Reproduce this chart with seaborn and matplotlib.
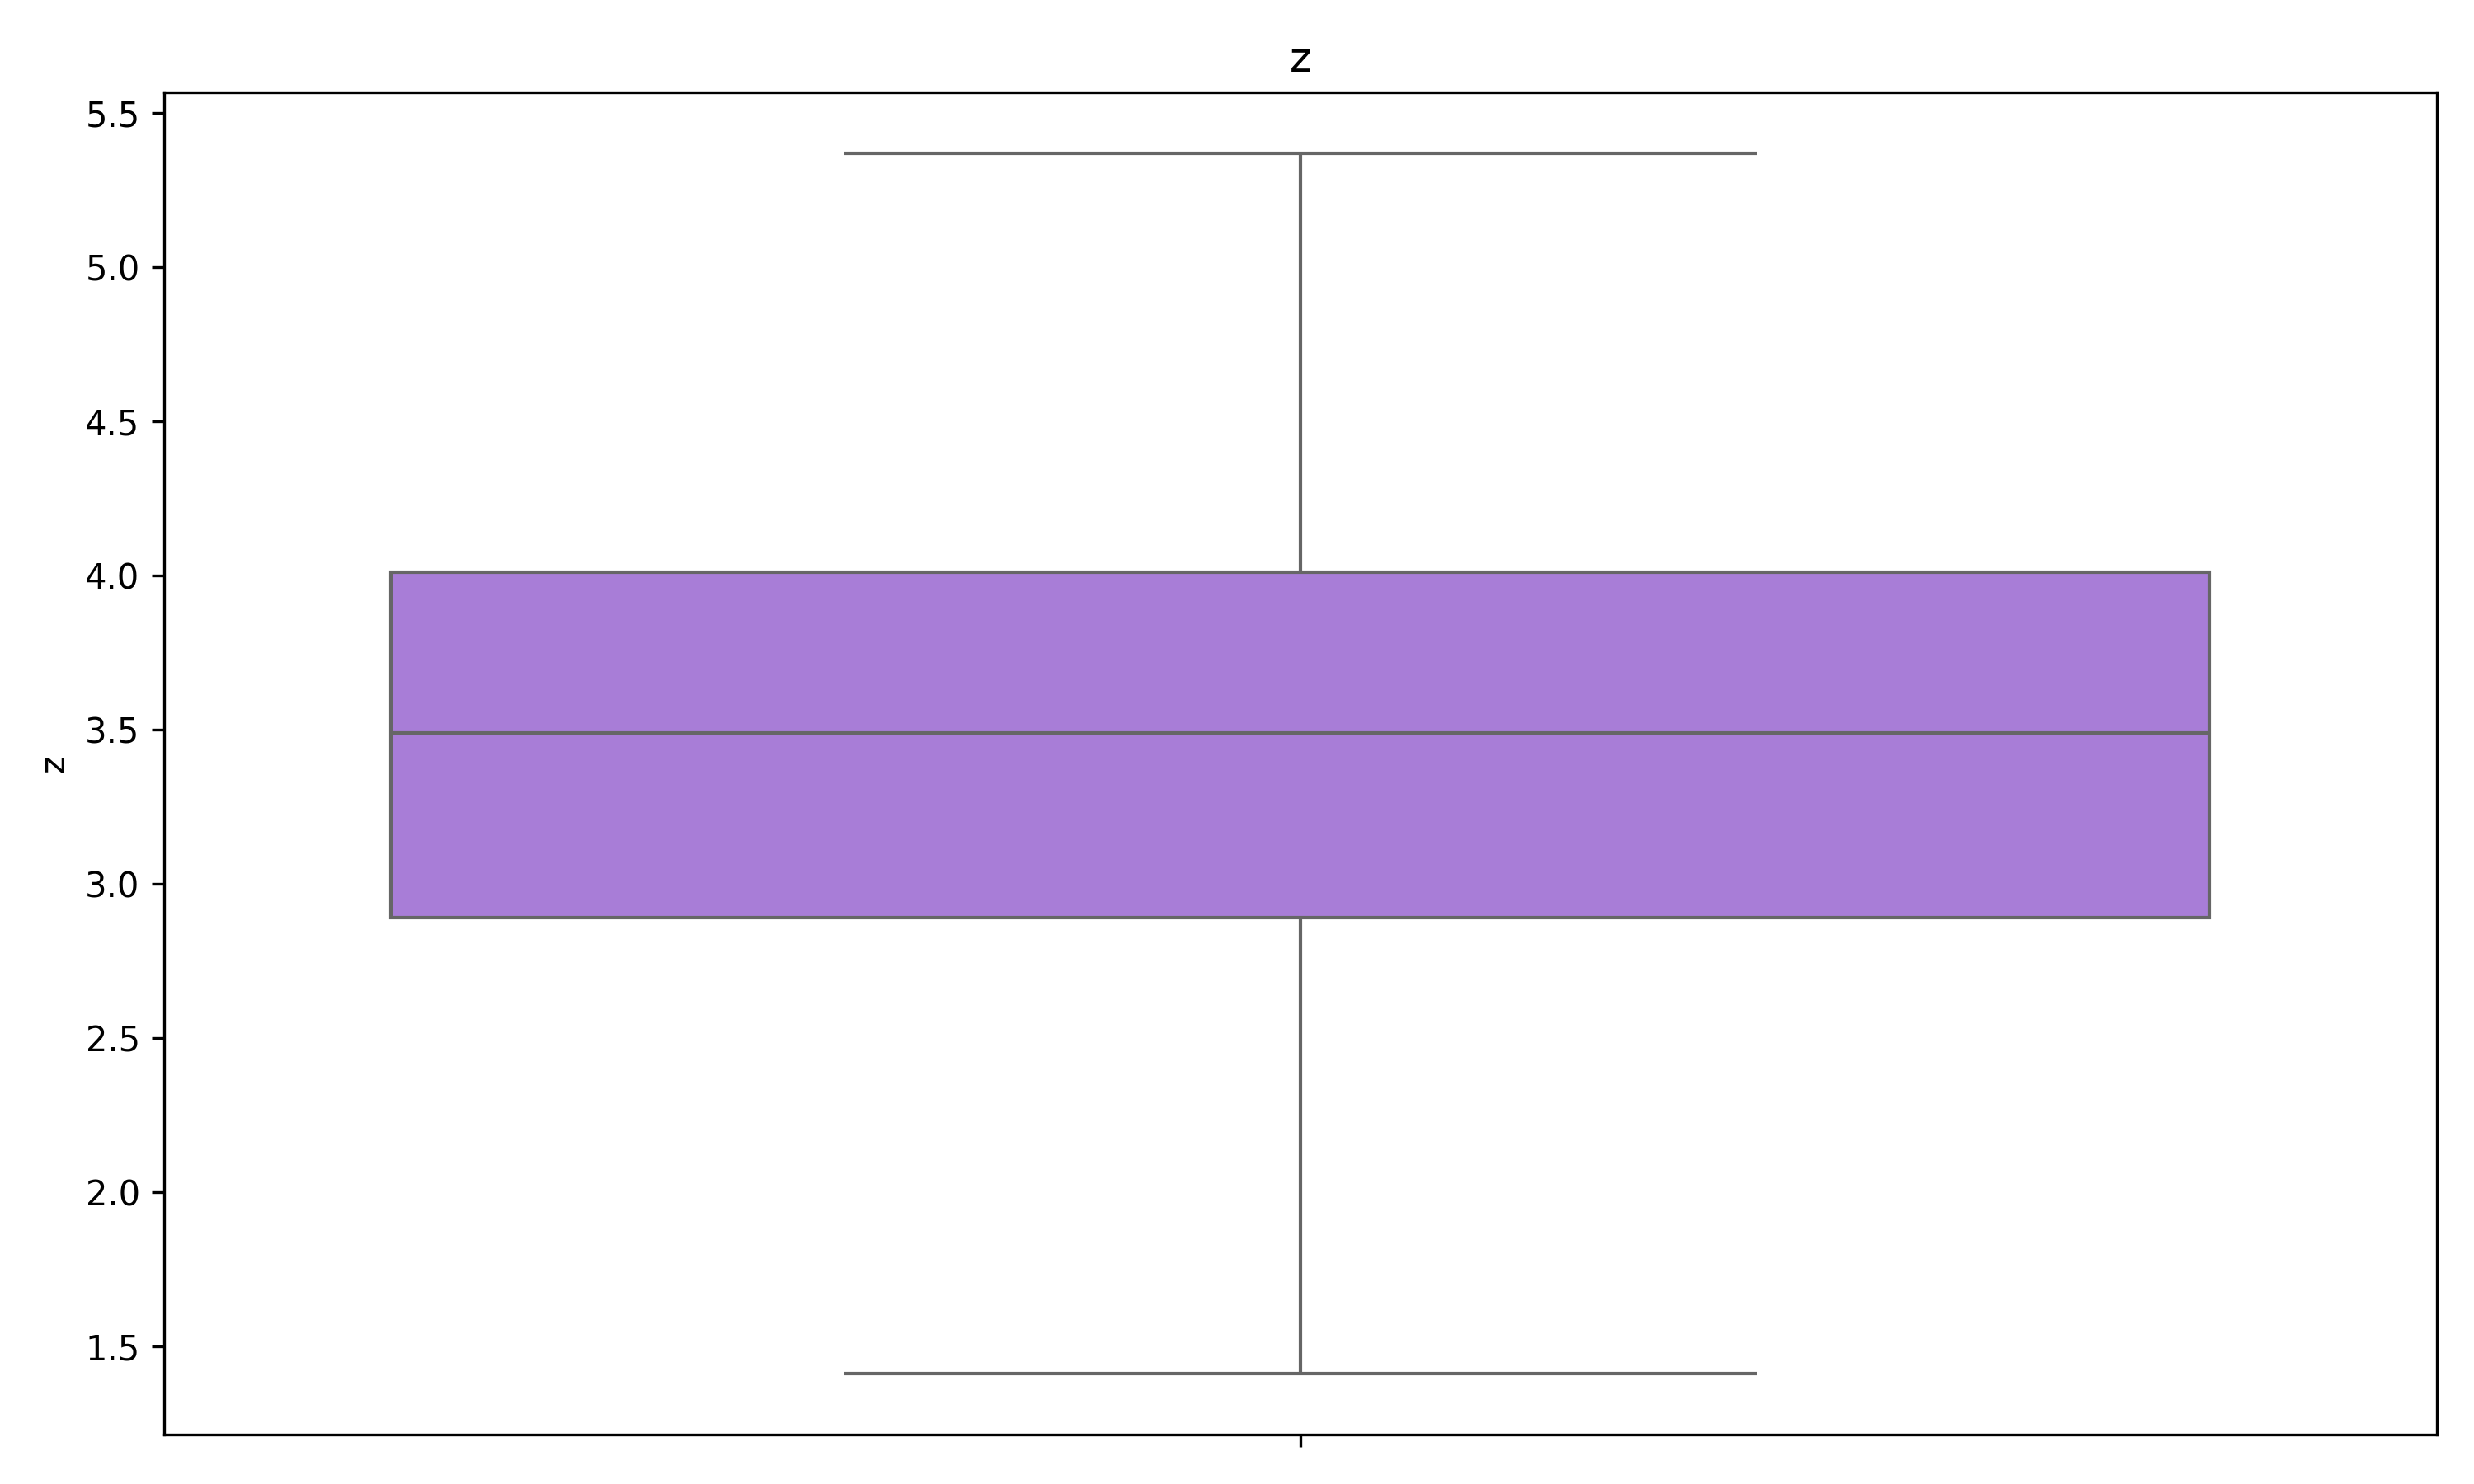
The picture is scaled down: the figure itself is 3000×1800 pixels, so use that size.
import matplotlib
matplotlib.use("Agg")
import matplotlib.pyplot as plt
import seaborn as sns
import pandas as pd

# values: min whisker, Q1, median, Q3, max whisker
z = [1.41, 2.89, 3.49, 4.01, 5.37]
df = pd.DataFrame({"z": z})

plt.figure(figsize=(10, 6))
sns.boxplot(y=df["z"], color="#a87dd7", saturation=1)
plt.title("z")
plt.ylabel("z")

plt.tight_layout()
plt.savefig("out.png", dpi=300)
